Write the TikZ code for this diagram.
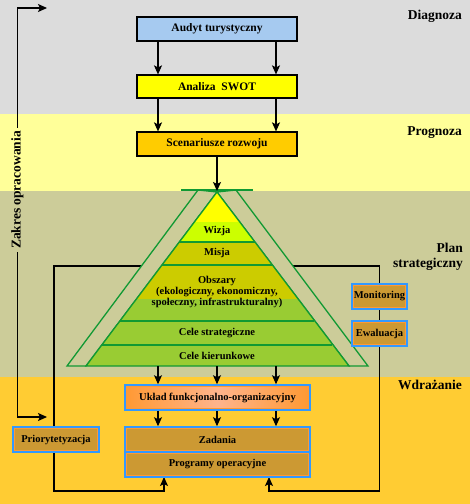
\documentclass[tikz,border=0pt]{standalone}
\usepackage{fontspec}
\setmainfont{Liberation Serif}
\usetikzlibrary{arrows.meta}

\definecolor{bandgray}{HTML}{DCDCDC}
\definecolor{bandyellow}{HTML}{FFFF99}
\definecolor{bandkhaki}{HTML}{CCCC99}
\definecolor{bandorange}{HTML}{FFCC33}
\definecolor{audytblue}{HTML}{A6CAF0}
\definecolor{swotyellow}{HTML}{FFFF00}
\definecolor{scengold}{HTML}{FFCC00}
\definecolor{pyrline}{HTML}{119933}
\definecolor{layeryellow}{HTML}{FFFF00}
\definecolor{layerlime}{HTML}{CCFF00}
\definecolor{layerolive}{HTML}{CCCC00}
\definecolor{layergreen}{HTML}{99CC33}
\definecolor{boxbrown}{HTML}{CC9933}
\definecolor{boxblue}{HTML}{3399FF}
\definecolor{boxedge}{HTML}{FF9933}
\definecolor{ukladpeach}{HTML}{FFB48C}

\tikzset{
  box/.style={draw=black, line width=1.2pt, minimum width=160pt, minimum height=24pt,
    inner sep=0pt, font=\fontsize{11.5}{13}\selectfont\bfseries},
  brownbox/.style={draw=boxblue, line width=1.6pt, fill=boxbrown, inner sep=0pt,
    minimum height=25pt, font=\fontsize{10.5}{12}\selectfont\bfseries,
    path picture={\draw[boxedge, line width=0.9pt]
      ([shift={(1.5pt,1.5pt)}]path picture bounding box.south west) rectangle
      ([shift={(-1.5pt,-1.5pt)}]path picture bounding box.north east);}},
  arr/.style={-{Stealth[length=9pt,width=8pt,inset=2pt]}, line width=1.2pt},
  bandlabel/.style={font=\fontsize{13.5}{15}\selectfont\bfseries, anchor=east, inner sep=0pt},
  pyrtext/.style={font=\fontsize{10.5}{11}\selectfont\bfseries, inner sep=0pt, align=center},
  pyredge/.style={draw=pyrline, line width=1.3pt}
}

\begin{document}
\begin{tikzpicture}[x=1pt,y=-1pt]
  \useasboundingbox (0,0) rectangle (470,504);

  % Bands
  \fill[bandgray] (0,0) rectangle (470,114);
  \fill[bandyellow] (0,114) rectangle (470,191);
  \fill[bandkhaki] (0,191) rectangle (470,377);
  \fill[bandorange] (0,377) rectangle (470,504);

  % Band labels
  \node[bandlabel] (diagnoza) at (462,16) {Diagnoza};
  \node[bandlabel] (prognoza) at (462,133) {Prognoza};
  \node[bandlabel, align=right] (plan) at (463,257) {Plan\\strategiczny};
  \node[bandlabel] (wdrazanie) at (462,385) {Wdrażanie};

  % Zakres opracowania
  \node[rotate=90, font=\fontsize{13.5}{15}\selectfont\bfseries, inner sep=3pt]
    (zakres) at (17.5,190) {Zakres opracowania};
  \coordinate (ztop) at (47,8);
  \coordinate (zbot) at (47,417);
  \draw[arr] (zakres.east) -- (ztop -| zakres.east) -- (ztop);
  \draw[arr] (zakres.west) -- (zbot -| zakres.west) -- (zbot);

  % Boxes
  \node[box, fill=audytblue] (audyt) at (217,29) {Audyt turystyczny};
  \node[box, fill=swotyellow, minimum height=23pt] (swot) at (217,86.5) {Analiza\ \ SWOT};
  \node[box, fill=scengold] (scen) at (217,144) {Scenariusze rozwoju};

  % Feedback lines
  \coordinate (lfeed) at (141,266);
  \coordinate (rfeed) at (293,266);
  \draw[arr] (lfeed) -- (54,266) -- (54,491) -- (164,491) coordinate (lend) -- ++(0,-14);
  \draw[arr] (rfeed) -- (379.5,266) -- (379.5,491) -- (269,491) coordinate (rend) -- ++(0,-14);

  % Pyramid strips
  \coordinate (apex) at (217,191);
  \filldraw[fill=bandkhaki, pyredge] (198,190) -- (67,366) -- (86,366) -- (217,192) -- cycle;
  \filldraw[fill=bandkhaki, pyredge] (236,190) -- (368,366) -- (349,366) -- (217,192) -- cycle;

  % Pyramid layers
  \begin{scope}
    \clip (217,192) -- (86,366) -- (349,366) -- cycle;
    \fill[layeryellow] (86,190) rectangle (349,222);
    \fill[layerlime] (86,222) rectangle (349,242);
    \fill[layerolive] (86,242) rectangle (349,299);
    \fill[layergreen] (86,299) rectangle (349,367);
  \end{scope}
  \draw[pyredge] (217,192) -- (86,366) -- (349,366) -- cycle;
  \foreach \y in {242,265,321,345} {
    \draw[pyredge] ({217-(\y-192)*0.753},\y) -- ({217+(\y-192)*0.753},\y);
  }
  \draw[pyrline, line width=1.6pt] (181,190) -- (253,190);

  % Pyramid texts
  \node[pyrtext] (wizja) at (217,231) {Wizja};
  \node[pyrtext] (misja) at (217,253) {Misja};
  \node[pyrtext] (obszary) at (217,292) {Obszary\\(ekologiczny, ekonomiczny,\\społeczny, infrastrukturalny)};
  \node[pyrtext] (celestrat) at (217,333) {Cele strategiczne};
  \node[pyrtext] (celekier) at (217,356) {Cele kierunkowe};

  % Side boxes
  \node[brownbox, minimum width=55pt] (monit) at (379.5,296.5) {Monitoring};
  \node[brownbox, minimum width=55pt] (ewal) at (379.5,333.5) {Ewaluacja};
  \node[brownbox, minimum width=86pt] (prior) at (56,439.5) {Priorytetyzacja};

  % Wdrazanie boxes
  \node[brownbox, minimum width=185pt, fill=none, left color=boxedge, right color=boxedge,
    middle color=ukladpeach] (uklad) at (217.5,397.5) {Układ funkcjonalno-organizacyjny};
  \node[brownbox, minimum width=185pt] (zadania) at (217.5,439.5) {Zadania};
  \node[brownbox, minimum width=185pt] (programy) at (217.5,464.5) {Programy operacyjne};

  % Arrows
  \foreach \dx in {-59,59} {
    \draw[arr] ([xshift=\dx pt]audyt.south) -- ([xshift=\dx pt]swot.north);
    \draw[arr] ([xshift=\dx pt]swot.south) -- ([xshift=\dx pt]scen.north);
  }
  \draw[arr] (scen.south) -- (apex);
  \foreach \x in {158,217,276} {
    \draw[arr] (\x,366) -- (uklad.north -| \x,0);
    \draw[arr] (uklad.south -| \x,0) -- (zadania.north -| \x,0);
  }
\end{tikzpicture}
\end{document}
